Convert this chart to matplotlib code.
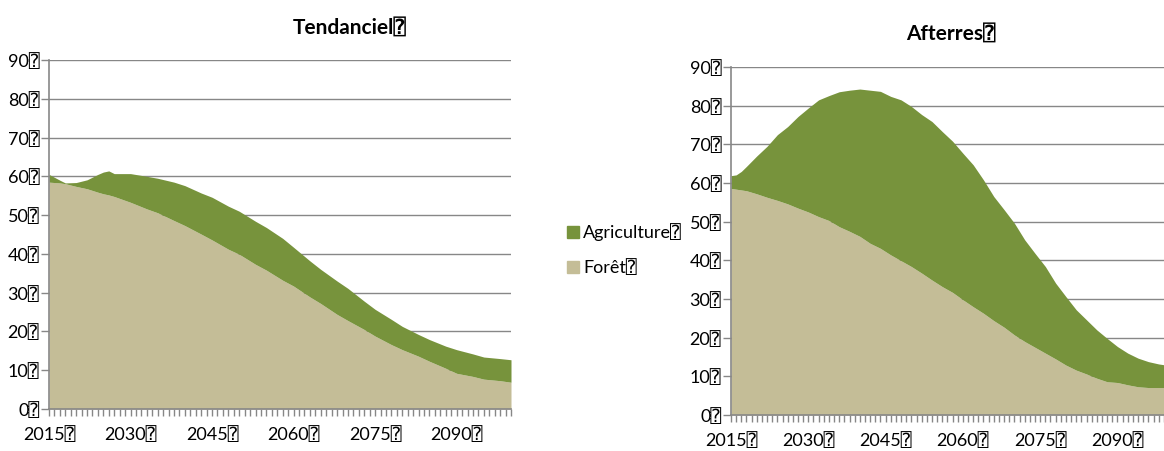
import matplotlib
matplotlib.use("Agg")
import matplotlib.pyplot as plt
from matplotlib.ticker import MultipleLocator
from matplotlib.lines import Line2D

plt.rcParams['font.family'] = ['Lato', 'DejaVu Sans', 'DejaVu Sans Mono']

BOX = "\u2370"

# --- Tendanciel ---
years_t = [2015, 2017, 2018, 2020, 2022, 2024, 2025, 2026, 2027, 2030, 2033, 2035, 2038,
           2040, 2043, 2045, 2048, 2050, 2053, 2055, 2058, 2060, 2063, 2065, 2068, 2070,
           2073, 2075, 2078, 2080, 2083, 2085, 2088, 2090, 2093, 2095, 2098, 2100]
total_t = [60.5, 59.0, 58.3, 58.4, 59.1, 60.5, 61.1, 61.4, 60.7, 60.7, 60.0, 59.5, 58.5,
           57.6, 55.7, 54.6, 52.3, 51.0, 48.4, 46.8, 44.0, 41.7, 38.2, 36.0, 33.0, 31.1,
           27.8, 25.7, 23.1, 21.3, 19.2, 17.9, 16.2, 15.3, 14.2, 13.4, 13.0, 12.7]
foret_t = [58.5, 58.3, 58.1, 57.4, 56.8, 55.9, 55.5, 55.2, 54.8, 53.3, 51.6, 50.6, 48.6,
           47.3, 45.1, 43.6, 41.2, 39.9, 37.3, 35.8, 33.2, 31.7, 28.9, 27.2, 24.4, 22.8,
           20.5, 18.8, 16.6, 15.3, 13.6, 12.3, 10.5, 9.2, 8.4, 7.7, 7.3, 6.9]

# --- Afterres ---
years_a = [2015, 2016, 2017, 2018, 2020, 2022, 2024, 2026, 2028, 2030, 2032, 2034, 2036,
           2038, 2040, 2042, 2044, 2046, 2048, 2050, 2052, 2054, 2056, 2058, 2060, 2062,
           2064, 2066, 2068, 2070, 2072, 2074, 2076, 2078, 2080, 2082, 2084, 2086, 2088,
           2090, 2092, 2094, 2096, 2098, 2100]
total_a = [61.9, 62.1, 63.0, 64.3, 67.0, 69.5, 72.5, 74.6, 77.2, 79.4, 81.5, 82.6, 83.6,
           84.0, 84.3, 84.0, 83.7, 82.4, 81.5, 79.8, 77.7, 75.9, 73.3, 70.8, 67.7, 64.7,
           60.8, 56.5, 53.1, 49.6, 45.3, 41.8, 38.4, 34.1, 30.6, 27.2, 24.6, 22.0, 19.8,
           17.7, 16.0, 14.7, 13.8, 13.2, 12.8]
foret_a = [58.6, 58.4, 58.2, 58.0, 57.2, 56.3, 55.5, 54.6, 53.5, 52.5, 51.3, 50.3, 48.7,
           47.5, 46.2, 44.4, 43.1, 41.4, 39.9, 38.4, 36.7, 34.9, 33.2, 31.7, 29.8, 28.0,
           26.3, 24.4, 22.7, 20.7, 19.0, 17.5, 16.0, 14.5, 12.9, 11.6, 10.6, 9.5, 8.6,
           8.4, 7.8, 7.3, 7.1, 7.1, 7.1]

titles = ["Tendanciel", "Afterres"]
series_names = ["Agriculture", "Forêt"]
y_ticks = [0, 10, 20, 30, 40, 50, 60, 70, 80, 90]
x_ticks = [2015, 2030, 2045, 2060, 2075, 2090]

GREEN = "#77933C"
TAN = "#C4BD97"
GRID = "#878787"
FS = 13
TFS = 15

W, H = 1164, 451
fig = plt.figure(figsize=(W / 100, H / 100), dpi=100)


def make_ax(rect_px):
    l, t, r, b = rect_px
    return fig.add_axes([l / W, 1 - b / H, (r - l) / W, (b - t) / H])


def style(ax, years, total, foret):
    ax.fill_between(years, 0, foret, color=TAN, lw=0, zorder=2)
    ax.fill_between(years, foret, total, color=GREEN, lw=0, zorder=2)
    ax.set_xlim(2015, 2100)
    ax.set_ylim(0, 90)
    ax.set_yticks(y_ticks)
    ax.set_yticklabels([f"{v}{BOX}" for v in y_ticks], fontsize=FS)
    ax.set_xticks(x_ticks)
    ax.set_xticklabels([f"{v}{BOX}" for v in x_ticks], fontsize=FS)
    ax.xaxis.set_minor_locator(MultipleLocator(1))
    ax.tick_params(axis='x', which='both', length=5, width=1, color=GRID, pad=7)
    ax.tick_params(axis='y', which='major', length=6, width=1, color=GRID, pad=1)
    ax.grid(axis='y', color=GRID, lw=1, zorder=1)
    ax.set_axisbelow(True)
    for s in ['top', 'right']:
        ax.spines[s].set_visible(False)
    for s in ['left', 'bottom']:
        ax.spines[s].set_color(GRID)
        ax.spines[s].set_linewidth(1.2)
        ax.spines[s].set_zorder(3)


ax1 = make_ax((49, 60, 511, 409))
style(ax1, years_t, total_t, foret_t)
ax2 = make_ax((731, 67, 1169, 415))
style(ax2, years_a, total_a, foret_a)

fig.text(350 / W, 1 - 28 / H, titles[0] + BOX, ha='center', va='center',
         fontsize=TFS, fontweight='bold')
fig.text(951 / W, 1 - 34 / H, titles[1] + BOX, ha='center', va='center',
         fontsize=TFS, fontweight='bold')

handles = [Line2D([], [], marker='s', ls='none', color=GREEN, markersize=8.5),
           Line2D([], [], marker='s', ls='none', color=TAN, markersize=8.5)]
fig.legend(handles, [n + BOX for n in series_names], loc='center left',
           bbox_to_anchor=(548 / W, 1 - 250 / H), frameon=False, fontsize=FS,
           handletextpad=0.05, labelspacing=1.0, handlelength=1.0)

fig.savefig("out.png", dpi=100)
